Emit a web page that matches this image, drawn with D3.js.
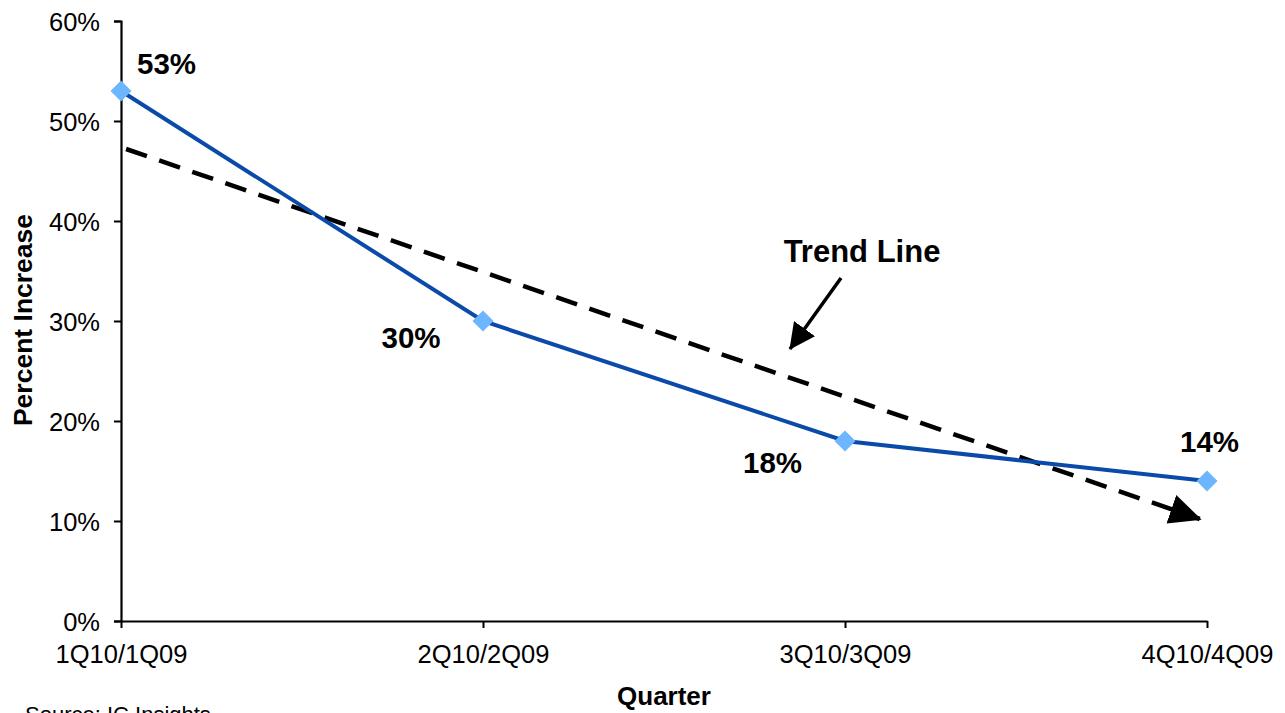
<!DOCTYPE html>
<html>
<head>
<meta charset="utf-8">
<script src="https://cdn.jsdelivr.net/npm/d3@7"></script>
<style>
  html, body { margin: 0; padding: 0; background: #ffffff; }
  svg { display: block; font-family: "Liberation Sans", Arial, sans-serif; }
</style>
</head>
<body>
<svg id="chart" width="1285" height="713"></svg>
<script>
// Year-over-year quarterly growth
const quarters = ["1Q10/1Q09", "2Q10/2Q09", "3Q10/3Q09", "4Q10/4Q09"];
const growth = [53, 30, 18, 14];
const yTicks = [0, 10, 20, 30, 40, 50, 60];
// Trend line endpoints (position along the quarter index, percent)
const trendPos = [0.014, 2.98];
const trendVal = [47.2, 10.2];

const svg = d3.select("#chart");
const W = 1285, H = 713;
const margin = { left: 121, right: 78, top: 21, bottom: 92 };
const FONT = "Liberation Sans, Arial, sans-serif";

const x = d3.scaleLinear().domain([0, quarters.length - 1]).range([margin.left, W - margin.right]);
const y = d3.scaleLinear().domain([0, 60]).range([H - margin.bottom, margin.top]);

const defs = svg.append("defs");
defs.append("marker")
  .attr("id", "trendHead")
  .attr("viewBox", "0 0 32 32")
  .attr("refX", 30).attr("refY", 16)
  .attr("markerUnits", "userSpaceOnUse")
  .attr("markerWidth", 32).attr("markerHeight", 32)
  .attr("orient", "auto")
  .append("path").attr("d", "M0,1 L32,16 L0,31 Z").attr("fill", "#000");
defs.append("marker")
  .attr("id", "noteHead")
  .attr("viewBox", "0 0 26 26")
  .attr("refX", 25).attr("refY", 13)
  .attr("markerUnits", "userSpaceOnUse")
  .attr("markerWidth", 26).attr("markerHeight", 26)
  .attr("orient", "auto")
  .append("path").attr("d", "M0,0 L26,13 L0,26 Z").attr("fill", "#000");

// Y axis
const yAxis = d3.axisLeft(y).tickValues(yTicks).tickFormat(d => d + "%").tickSize(7).tickPadding(14);
const gy = svg.append("g").attr("transform", `translate(${margin.left},0)`).call(yAxis);
gy.select(".domain").attr("stroke", "#000").attr("stroke-width", 2.2);
gy.selectAll(".tick line").attr("stroke", "#000").attr("stroke-width", 2);
gy.selectAll(".tick text").attr("font-size", 25.5).attr("fill", "#000")
  .attr("font-family", FONT).attr("dy", "0.36em");

// X axis
const xAxis = d3.axisBottom(x).tickValues(d3.range(quarters.length)).tickFormat(i => quarters[i])
  .tickSize(7).tickPadding(17).tickSizeOuter(0);
const gx = svg.append("g").attr("transform", `translate(0,${y(0)})`).call(xAxis);
gx.select(".domain").attr("stroke", "#000").attr("stroke-width", 2.2);
gx.selectAll(".tick line").attr("stroke", "#000").attr("stroke-width", 2);
gx.selectAll(".tick text").attr("font-size", 25.5).attr("fill", "#000")
  .attr("font-family", FONT);

// Axis titles and source note
svg.append("text").attr("x", 664).attr("y", 705).attr("text-anchor", "middle")
  .attr("font-size", 26).attr("font-weight", "bold").text("Quarter");
svg.append("text").attr("transform", "translate(32,320) rotate(-90)").attr("text-anchor", "middle")
  .attr("font-size", 26.5).attr("font-weight", "bold").text("Percent Increase");
svg.append("text").attr("x", 25).attr("y", 722).attr("font-size", 22).text("Source: IC Insights");

// Trend line (dashed, arrow at end)
svg.append("line")
  .attr("x1", x(trendPos[0])).attr("y1", y(trendVal[0]))
  .attr("x2", x(trendPos[1])).attr("y2", y(trendVal[1]))
  .attr("stroke", "#000").attr("stroke-width", 4.5)
  .attr("stroke-dasharray", "22,13")
  .attr("marker-end", "url(#trendHead)");

// Data line
const line = d3.line().x((d, i) => x(i)).y(d => y(d));
svg.append("path").datum(growth).attr("d", line)
  .attr("fill", "none").attr("stroke", "#0a4aa8").attr("stroke-width", 4);

// Diamond markers
svg.selectAll(".pt").data(growth).join("path").attr("class", "pt")
  .attr("d", d3.symbol(d3.symbolSquare, 220))
  .attr("transform", (d, i) => `translate(${x(i)},${y(d)}) rotate(45)`)
  .attr("fill", "#6bb6ff");

// Value labels
const labelOffsets = [
  { dx: 45.5, dy: -17 },
  { dx: -72, dy: 27 },
  { dx: -72.5, dy: 32 },
  { dx: 2.5, dy: -29 }
];
svg.selectAll(".val").data(growth).join("text").attr("class", "val")
  .attr("x", (d, i) => x(i) + labelOffsets[i].dx)
  .attr("y", (d, i) => y(d) + labelOffsets[i].dy)
  .attr("text-anchor", "middle")
  .attr("font-size", 29.5).attr("font-weight", "bold").attr("fill", "#000")
  .text(d => d + "%");

// Trend line annotation
svg.append("text").attr("x", 862).attr("y", 262).attr("text-anchor", "middle")
  .attr("font-size", 31).attr("font-weight", "bold").text("Trend Line");
svg.append("line").attr("x1", 841).attr("y1", 278).attr("x2", 790).attr("y2", 349)
  .attr("stroke", "#000").attr("stroke-width", 3.5).attr("marker-end", "url(#noteHead)");
</script>
</body>
</html>
